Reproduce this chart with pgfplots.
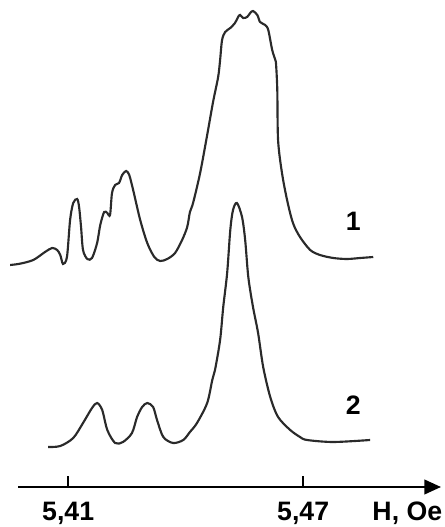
\documentclass[border=0pt]{standalone}
\usepackage{pgfplots}
\pgfplotsset{compat=1.18}
\usepackage{fontspec}
\setmainfont{Liberation Sans}
\usetikzlibrary{arrows.meta}
\definecolor{curve}{HTML}{2A2A2A}
\begin{document}
\begin{tikzpicture}
\useasboundingbox (0,0) rectangle (333pt,395.25pt);
\begin{axis}[
  at={(13.5pt,30pt)}, anchor=south west,
  scale only axis, width=317.25pt, height=365.25pt,
  xmin=5.3972, xmax=5.5052, ymin=40, ymax=527,
  axis x line=bottom, axis y line=none,
  x axis line style={line width=1.5pt, -{Stealth[length=12.5pt,width=11pt,inset=0pt]}},
  xtick={5.41,5.47}, xticklabels={{\textbf{5,41}},{\textbf{5,47}}},
  tick align=inside, major tick length=8pt,
  every tick/.style={black, line width=1pt},
  xticklabel style={font=\fontsize{20}{24}\selectfont, anchor=center, yshift=-19.5pt},
  clip=false,
]
\addplot[curve, line width=1.6pt, smooth, tension=0.5] coordinates {
(5.3952,262)(5.3977,263.3)(5.4011,267)(5.4041,275)(5.4059,279)(5.4072,277)
(5.4080,272)(5.4087,263)(5.4097,270)(5.4105,307)(5.4113,324)(5.4123,328)
(5.4128,320)(5.4133,300)(5.4138,277)(5.4149,268)(5.4161,269)(5.4174,284)
(5.4182,302)(5.4192,315)(5.4200,314)(5.4207,312)(5.4212,334)(5.4220,342)
(5.4230,344)(5.4238,352)(5.4248,356)(5.4256,352)(5.4266,337)(5.4284,307)
(5.4302,284)(5.4320,270)(5.4335,266)(5.4353,268)(5.4373,274)(5.4391,287)
(5.4404,300)(5.4411,315)(5.4419,324)(5.4437,354)(5.4455,392)(5.4470,425)
(5.4483,450)(5.4488,467)(5.4493,487)(5.4501,495)(5.4514,499)(5.4526,504)
(5.4534,510)(5.4539,512)(5.4547,509)(5.4557,510)(5.4565,514)(5.4572,516)
(5.4583,512)(5.4590,505)(5.4603,502)(5.4611,497)(5.4621,477)(5.4629,467)
(5.4631,462)(5.4634,437)(5.4636,387)(5.4646,354)(5.4659,327)(5.4674,304)
(5.4692,290)(5.4718,277)(5.4743,272)
(5.4777,269)(5.4812,268)(5.4846,269)(5.4879,270)
};
\addplot[curve, line width=1.6pt, smooth, tension=0.5] coordinates {
(5.4049,80)(5.4080,81)(5.4113,89)(5.4138,104)(5.4161,119)(5.4174,124)
(5.4187,117)(5.4200,97)(5.4220,84)(5.4240,85)(5.4263,94)(5.4276,110)
(5.4289,120)(5.4302,124)(5.4317,120)(5.4327,107)(5.4343,90)(5.4368,84)
(5.4394,87)(5.4411,95)(5.4429,104)(5.4455,124)(5.4468,147)(5.4475,157)
(5.4488,187)(5.4496,220)(5.4506,254)(5.4514,297)(5.4521,317)(5.4531,324)
(5.4544,310)(5.4552,287)(5.4560,250)(5.4572,220)(5.4585,194)(5.4598,160)
(5.4616,130)(5.4636,110)(5.4667,97)(5.4692,90)(5.4710,87)(5.4777,85)
(5.4871,87)
};
\node[font=\fontsize{20}{24}\selectfont\bfseries] at (axis cs:5.4828,306) {1};
\node[font=\fontsize{20}{24}\selectfont\bfseries] at (axis cs:5.4828,122) {2};
\node[font=\fontsize{20}{24}\selectfont\bfseries, anchor=center] at (axis cs:5.4966,14) {H, Oe};
\end{axis}
\end{tikzpicture}
\end{document}
